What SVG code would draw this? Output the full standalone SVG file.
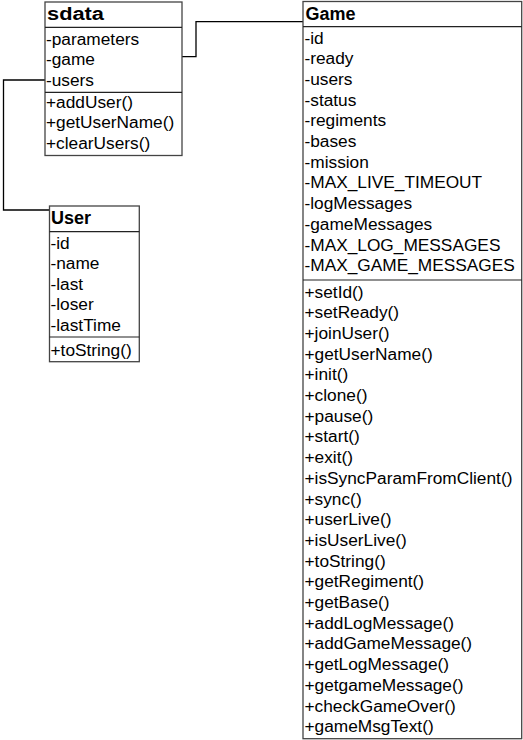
<svg xmlns="http://www.w3.org/2000/svg" width="523" height="740" viewBox="0 0 523 740">
  <style>
    .box { fill: #fff; stroke: #444; stroke-width: 1.3; }
    .sep { stroke: #222; stroke-width: 1.2; }
    .title { font-family: "Liberation Sans", Arial, sans-serif; font-size: 18px; font-weight: bold; fill: #000; }
    .item { font-family: "Liberation Sans", Arial, sans-serif; font-size: 17.3px; fill: #000; }
    .link { fill: none; stroke: #000; stroke-width: 1.3; }
  </style>

  <!-- associations -->
  <g id="connectors">
    <polyline class="link" points="45,80 3.5,80 3.5,210 49.5,210"/>
    <polyline class="link" points="182,56.7 196,56.7 196,21.7 314,21.7"/>
  </g>

  <!-- sdata class -->
  <g id="sdata">
    <rect class="box" x="45" y="2" width="137" height="153.5"/>
    <line class="sep" x1="45" y1="27.3" x2="182" y2="27.3"/>
    <line class="sep" x1="45" y1="92.3" x2="182" y2="92.3"/>
    <text class="title" x="47" y="19.5" textLength="57" lengthAdjust="spacingAndGlyphs">sdata</text>
    <text class="item" x="46" y="44.5">-parameters</text>
    <text class="item" x="46" y="65">-game</text>
    <text class="item" x="46" y="85.5">-users</text>
    <text class="item" x="46" y="107.5">+addUser()</text>
    <text class="item" x="46" y="128">+getUserName()</text>
    <text class="item" x="46" y="148.5">+clearUsers()</text>
  </g>

  <!-- User class -->
  <g id="User">
    <rect class="box" x="49.5" y="206" width="89.8" height="155.7"/>
    <line class="sep" x1="49.5" y1="231.7" x2="139.3" y2="231.7"/>
    <line class="sep" x1="49.5" y1="337" x2="139.3" y2="337"/>
    <text class="title" x="51" y="223.5">User</text>
    <text class="item" x="50.5" y="248.5">-id</text>
    <text class="item" x="50.5" y="269">-name</text>
    <text class="item" x="50.5" y="289.5">-last</text>
    <text class="item" x="50.5" y="310">-loser</text>
    <text class="item" x="50.5" y="330.5">-lastTime</text>
    <text class="item" x="50.5" y="355.5">+toString()</text>
  </g>

  <!-- Game class -->
  <g id="Game">
    <rect class="box" x="303" y="1.5" width="218.7" height="737.2"/>
    <line class="sep" x1="303" y1="26.7" x2="521.7" y2="26.7"/>
    <line class="sep" x1="303" y1="280" x2="521.7" y2="280"/>
    <text class="title" x="305.5" y="20">Game</text>
    <g class="item">
      <text x="304.5" y="43.5">-id</text>
      <text x="304.5" y="64.2">-ready</text>
      <text x="304.5" y="84.9">-users</text>
      <text x="304.5" y="105.6">-status</text>
      <text x="304.5" y="126.3">-regiments</text>
      <text x="304.5" y="147">-bases</text>
      <text x="304.5" y="167.7">-mission</text>
      <text x="304.5" y="188.4">-MAX_LIVE_TIMEOUT</text>
      <text x="304.5" y="209.1">-logMessages</text>
      <text x="304.5" y="229.8">-gameMessages</text>
      <text x="304.5" y="250.5">-MAX_LOG_MESSAGES</text>
      <text x="304.5" y="271.2">-MAX_GAME_MESSAGES</text>
      <text x="304.5" y="297.5">+setId()</text>
      <text x="304.5" y="318.2">+setReady()</text>
      <text x="304.5" y="338.9">+joinUser()</text>
      <text x="304.5" y="359.6">+getUserName()</text>
      <text x="304.5" y="380.3">+init()</text>
      <text x="304.5" y="401">+clone()</text>
      <text x="304.5" y="421.7">+pause()</text>
      <text x="304.5" y="442.4">+start()</text>
      <text x="304.5" y="463.1">+exit()</text>
      <text x="304.5" y="483.8">+isSyncParamFromClient()</text>
      <text x="304.5" y="504.5">+sync()</text>
      <text x="304.5" y="525.2">+userLive()</text>
      <text x="304.5" y="545.9">+isUserLive()</text>
      <text x="304.5" y="566.6">+toString()</text>
      <text x="304.5" y="587.3">+getRegiment()</text>
      <text x="304.5" y="608">+getBase()</text>
      <text x="304.5" y="628.7">+addLogMessage()</text>
      <text x="304.5" y="649.4">+addGameMessage()</text>
      <text x="304.5" y="670.1">+getLogMessage()</text>
      <text x="304.5" y="690.8">+getgameMessage()</text>
      <text x="304.5" y="711.5">+checkGameOver()</text>
      <text x="304.5" y="732.2">+gameMsgText()</text>
    </g>
  </g>
</svg>
